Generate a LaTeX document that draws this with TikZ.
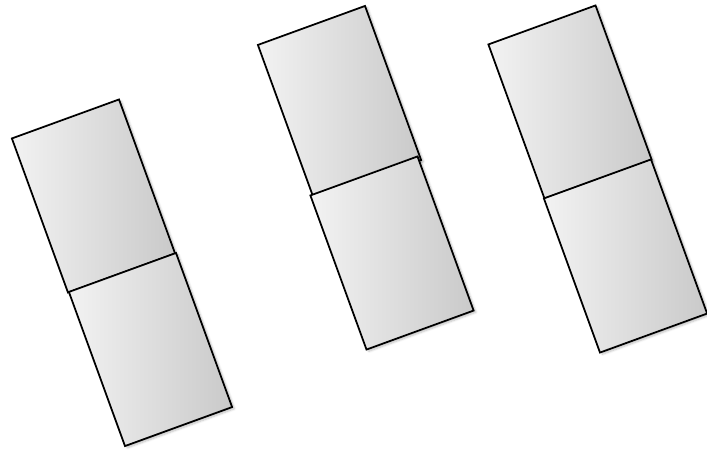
\documentclass[tikz,border=0pt]{standalone}
\usepackage{tikz}
\usetikzlibrary{shadows, shadows.blur}

\begin{document}
\begin{tikzpicture}[
    x=0.03cm, y=-0.03cm,
    panel/.style={draw=black, line width=1.5pt, rotate=20,
                  minimum width=3.42cm, minimum height=4.92cm,
                  inner sep=0pt, left color=gray!10, right color=gray!42,
                  blur shadow={shadow xshift=2pt, shadow yshift=-1.5pt,
                               shadow blur steps=6, shadow opacity=25}}
]
\useasboundingbox (0,0) rectangle (707,452);

%% ---- left pair -------------------------------------------------
\node[panel] (leftTop) at (93.5,196)   {};
\node[panel] (leftBot) at (150.5,349.5) {};

%% ---- middle pair -----------------------------------------------
\node[panel] (midTop) at (339.5,102.5) {};
\node[panel] (midBot) at (392,253)    {};

%% ---- right pair ------------------------------------------------
\node[panel] (rightTop) at (570,102)   {};
\node[panel] (rightBot) at (625.5,256) {};

\end{tikzpicture}
\end{document}
